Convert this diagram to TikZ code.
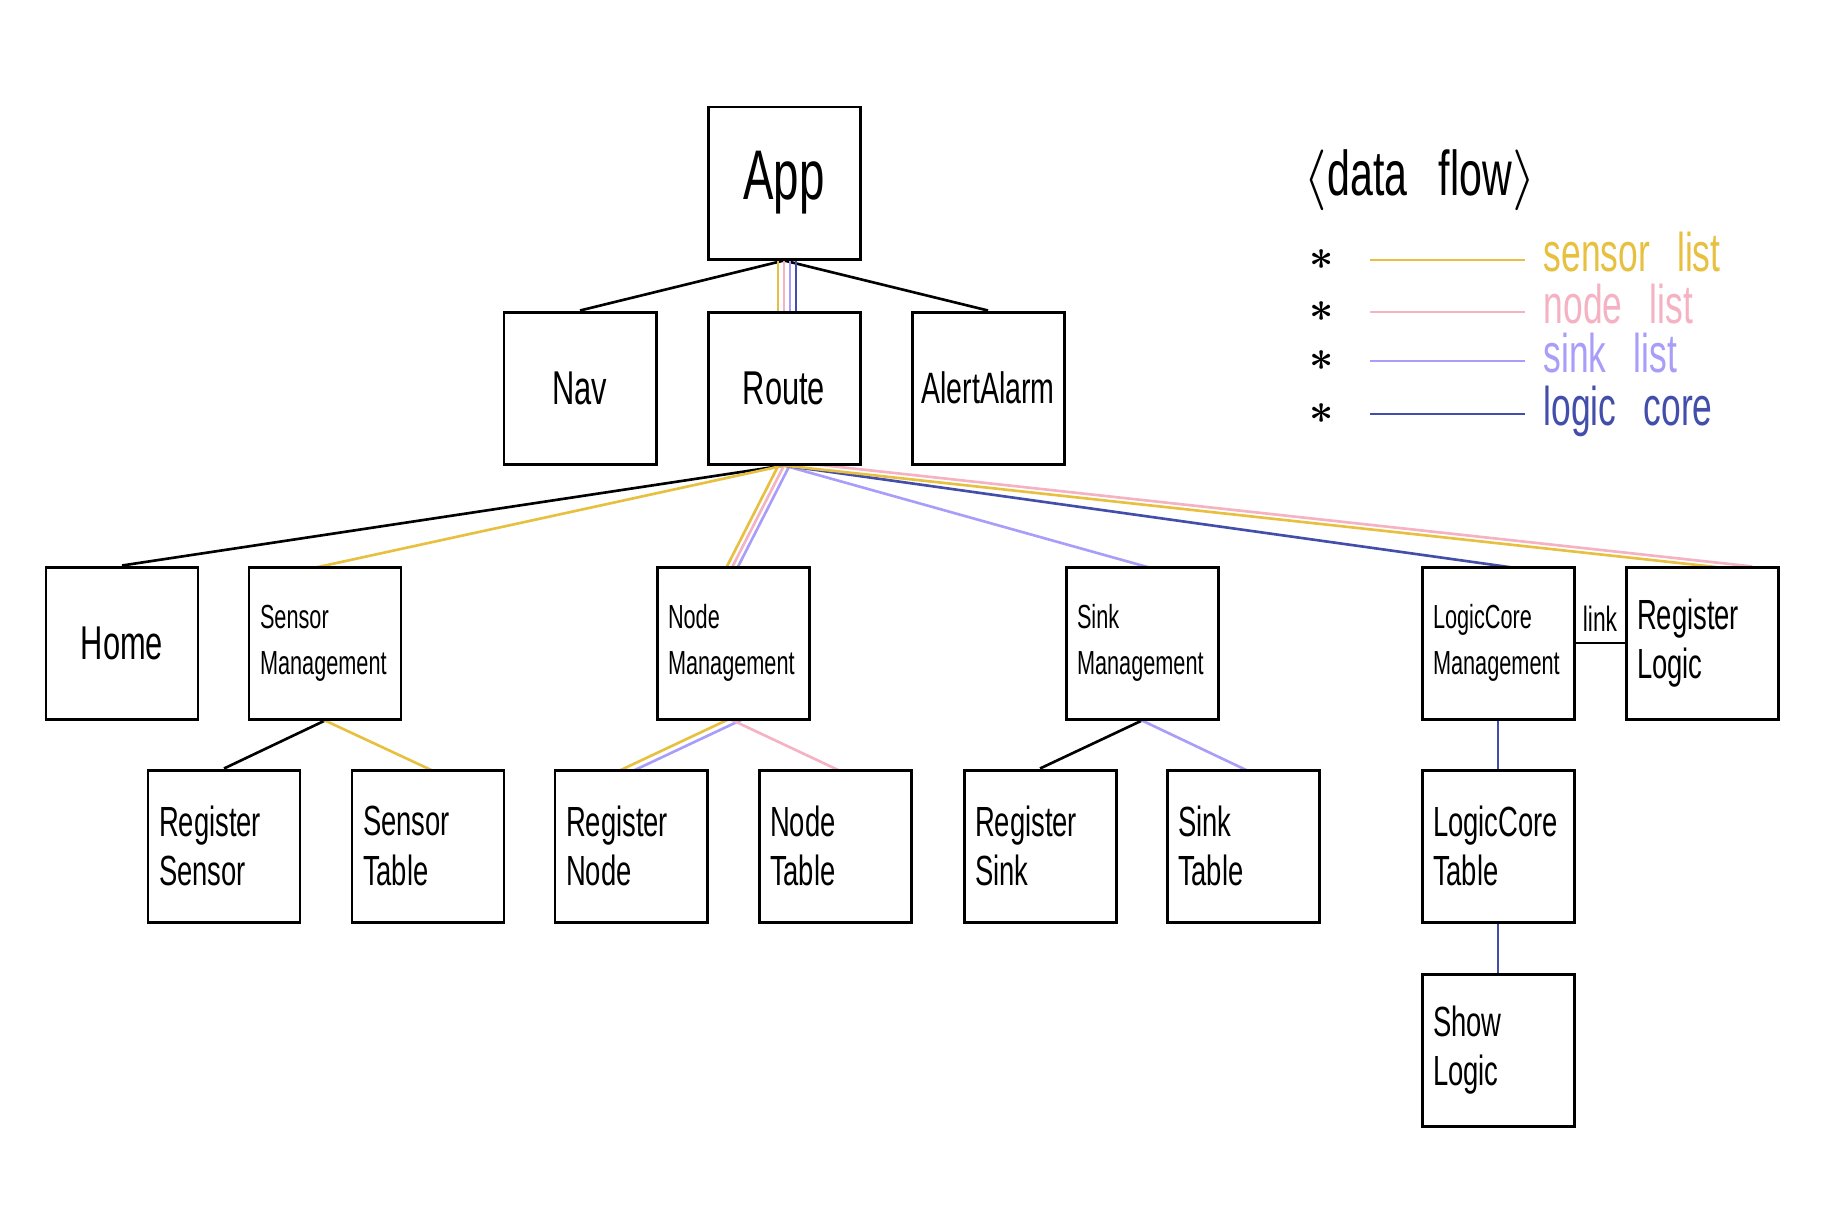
\documentclass[tikz,border=0pt]{standalone}
\usepackage{fontspec}
\setmainfont[FakeStretch=0.65]{Liberation Sans}
\usetikzlibrary{calc,backgrounds}

\definecolor{sensorc}{RGB}{232,192,64}
\definecolor{nodec}{RGB}{244,178,194}
\definecolor{sinkc}{RGB}{168,158,250}
\definecolor{logicc}{RGB}{66,78,170}

\tikzset{
  box/.style={draw,fill=white,line width=0.85pt,minimum size=1.52cm,inner sep=0.5mm,font=\fontsize{13.5}{15}\selectfont},
  twoline/.style={align=left,text width=13mm,inner sep=1.1mm},
  smalltext/.style={font=\fontsize{9.5}{13}\selectfont},
  bigtext/.style={font=\fontsize{12}{14}\selectfont},
  wire/.style={line width=0.75pt},
  flow/.style={line width=0.75pt,shorten <=-5mm,shorten >=-5mm},
  legendtext/.style={anchor=base west,inner sep=0pt,font=\fontsize{15.5}{18}\selectfont},
  star/.style={inner sep=0pt,font=\fontsize{13}{13}\selectfont\boldmath}
}

\begin{document}
\begin{tikzpicture}
\useasboundingbox (0,0) rectangle (18.24,-12.15);

\node[box,font=\fontsize{20}{22}\selectfont] (app) at (7.84,-1.83) {App};

\node[box] (nav) at (5.80,-3.88) {Nav};
\node[box] (route) at (7.84,-3.88) {Route};
\node[box,font=\fontsize{12.5}{14}\selectfont] (alarm) at (9.88,-3.88) {AlertAlarm};

\node[box] (home) at (1.22,-6.43) {Home};
\node[box,twoline,smalltext] (sensmgmt) at (3.25,-6.43) {Sensor\\Management};
\node[box,twoline,smalltext] (nodemgmt) at (7.33,-6.43) {Node\\Management};
\node[box,twoline,smalltext] (sinkmgmt) at (11.42,-6.43) {Sink\\Management};
\node[box,twoline,smalltext] (logicmgmt) at (14.98,-6.43) {LogicCore\\Management};
\node[box,twoline,bigtext] (reglogic) at (17.02,-6.43) {Register\\Logic};

\node[box,twoline,bigtext] (regsensor) at (2.24,-8.46) {Register\\Sensor};
\node[box,twoline,bigtext] (sensortable) at (4.28,-8.46) {Sensor\\Table};
\node[box,twoline,bigtext] (regnode) at (6.31,-8.46) {Register\\Node};
\node[box,twoline,bigtext] (nodetable) at (8.35,-8.46) {Node\\Table};
\node[box,twoline,bigtext] (regsink) at (10.40,-8.46) {Register\\Sink};
\node[box,twoline,bigtext] (sinktable) at (12.43,-8.46) {Sink\\Table};
\node[box,twoline,bigtext] (logictable) at (14.98,-8.46) {LogicCore\\Table};

\node[box,twoline,bigtext] (showlogic) at (14.98,-10.50) {Show\\Logic};

% legend
\node[anchor=west,inner sep=0pt,font=\fontsize{18}{20}\selectfont] (legend) at (13.03,-1.80) {$\langle$data\enspace flow$\rangle$};

\node[star] (star1) at (13.22,-2.60) {$\ast$};
\node[star] (star2) at (13.22,-3.12) {$\ast$};
\node[star] (star3) at (13.22,-3.61) {$\ast$};
\node[star] (star4) at (13.22,-4.14) {$\ast$};

\coordinate (sensorfrom) at (13.70,-2.60);
\coordinate (sensorto) at (15.25,-2.60);
\coordinate (nodefrom) at (13.70,-3.12);
\coordinate (nodeto) at (15.25,-3.12);
\coordinate (sinkfrom) at (13.70,-3.61);
\coordinate (sinkto) at (15.25,-3.61);
\coordinate (logicfrom) at (13.70,-4.14);
\coordinate (logicto) at (15.25,-4.14);

\node[legendtext,text=sensorc] (sensorlbl) at (15.43,-2.71) {sensor\enspace list};
\node[legendtext,text=nodec] (nodelbl) at (15.43,-3.23) {node\enspace list};
\node[legendtext,text=sinkc] (sinklbl) at (15.43,-3.72) {sink\enspace list};
\node[legendtext,text=logicc] (logiclbl) at (15.43,-4.25) {logic\enspace core};

\begin{pgfonlayer}{background}
\fill[white] (0,0) rectangle (18.24,-12.15);

\draw[wire,sensorc] (sensorfrom) -- (sensorto);
\draw[wire,nodec] (nodefrom) -- (nodeto);
\draw[wire,sinkc] (sinkfrom) -- (sinkto);
\draw[wire,logicc] (logicfrom) -- (logicto);

% app
\draw[wire] (app.south) -- (nav.north);
\draw[wire] (app.south) -- (alarm.north);
\draw[flow,sensorc] ([xshift=-0.6mm]app.south) -- ([xshift=-0.6mm]route.north);
\draw[flow,nodec] (app.south) -- (route.north);
\draw[flow,sinkc] ([xshift=0.6mm]app.south) -- ([xshift=0.6mm]route.north);
\draw[flow,logicc] ([xshift=1.2mm]app.south) -- ([xshift=1.2mm]route.north);

% route
\draw[wire] (route.south) -- (home.north);
\draw[flow,sensorc] (route.south) -- (sensmgmt.north);
\draw[flow,sensorc] ($(route.south)!-0.5mm!90:(nodemgmt.north)$) -- ($(nodemgmt.north)!-0.5mm!-90:(route.south)$);
\draw[flow,nodec] (route.south) -- (nodemgmt.north);
\draw[flow,sinkc] ($(route.south)!0.5mm!90:(nodemgmt.north)$) -- ($(nodemgmt.north)!0.5mm!-90:(route.south)$);
\draw[flow,sinkc] (route.south) -- (sinkmgmt.north);
\draw[flow,logicc] (route.south) -- (logicmgmt.north);
\draw[flow,sensorc] (route.south) -- (reglogic.north);
\draw[flow,nodec] ($(route.south)!0.45mm!90:(reglogic.north)$) -- ($(reglogic.north)!0.45mm!-90:(route.south)$);

% managements
\draw[wire] (sensmgmt.south) -- (regsensor.north);
\draw[flow,sensorc] (sensmgmt.south) -- (sensortable.north);
\draw[flow,sensorc] ($(nodemgmt.south)!-0.3mm!90:(regnode.north)$) -- ($(regnode.north)!-0.3mm!-90:(nodemgmt.south)$);
\draw[flow,sinkc] ($(nodemgmt.south)!0.3mm!90:(regnode.north)$) -- ($(regnode.north)!0.3mm!-90:(nodemgmt.south)$);
\draw[flow,nodec] (nodemgmt.south) -- (nodetable.north);
\draw[wire] (sinkmgmt.south) -- (regsink.north);
\draw[flow,sinkc] (sinkmgmt.south) -- (sinktable.north);
\draw[flow,logicc] (logicmgmt.south) -- (logictable.north);
\draw[flow,logicc] (logictable.south) -- (showlogic.north);
\draw[wire] (logicmgmt.east) -- (reglogic.west) node[midway,above,inner sep=1mm,font=\fontsize{10}{12}\selectfont] (linklbl) {link};
\end{pgfonlayer}
\end{tikzpicture}
\end{document}
